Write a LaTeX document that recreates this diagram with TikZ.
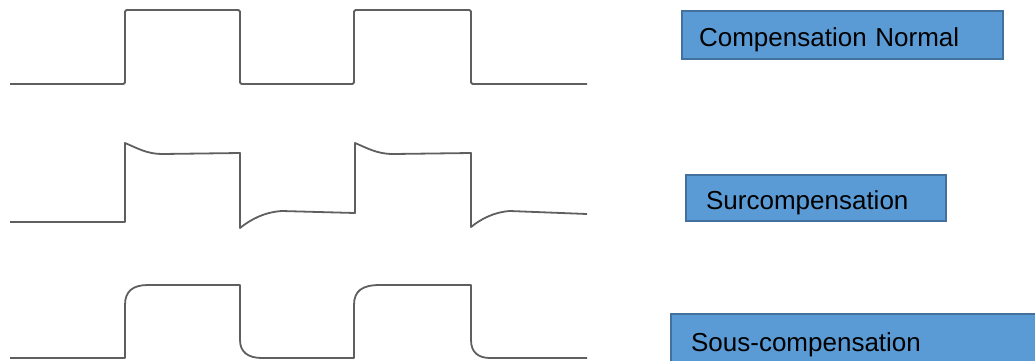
\documentclass[tikz,border=0pt]{standalone}
\usepackage{fontspec}
\setmainfont{Liberation Sans}
\definecolor{boxblue}{RGB}{91,155,213}
\definecolor{boxedge}{RGB}{65,113,156}
\definecolor{wavegray}{RGB}{95,95,95}

\begin{document}
\begin{tikzpicture}[
    x=1pt, y=-1pt,
    modebox/.style={rectangle, draw=boxedge, fill=boxblue, line width=2.2pt, anchor=north west, inner ysep=0pt, text height=24pt, text depth=2pt, align=left, font=\fontsize{26}{30}\selectfont},
    wave/.style={draw=wavegray, line width=1.8pt, line join=round}
]
    \useasboundingbox (0,0) rectangle (1035,360);
    \clip (0,0) rectangle (1035,360);

    \draw[wave, rounded corners=1.5pt] (10,84) -- (125,84) -- (125,10) -- (240,10) -- (240,84) -- (354,84) -- (354,10) -- (471,10) -- (471,84) -- (587,84);

    \draw[wave] (10,222) -- (125,222) -- (125,143) .. controls (137,148) and (147,154) .. (162,154) -- (240,153) -- (240,228) .. controls (250,220) and (264,212) .. (282,211) -- (355,213) -- (355,143) .. controls (367,148) and (377,154) .. (393,154) -- (471,153) -- (471,227) .. controls (481,219) and (494,212) .. (510,211) -- (587,214);

    \draw[wave] (10,358) -- (125,358) -- (125,305) .. controls (125,291) and (133,285) .. (148,285) -- (240,285) -- (240,340) .. controls (240,352) and (248,358) .. (262,358) -- (354,358) -- (354,305) .. controls (354,291) and (362,285) .. (380,285) -- (471,285) -- (471,340) .. controls (471,352) and (478,358) .. (490,358) -- (587,358);

    \node[modebox, inner xsep=17pt, text width=287pt, minimum height=48pt] (normal) at (681,10) {Compensation Normal};
    \node[modebox, inner xsep=20pt, text width=220pt, minimum height=46pt] (sur) at (685,174) {Surcompensation};
    \node[modebox, inner xsep=20pt, text width=340pt, minimum height=52pt] (sous) at (670,313) {Sous-compensation};
\end{tikzpicture}
\end{document}
